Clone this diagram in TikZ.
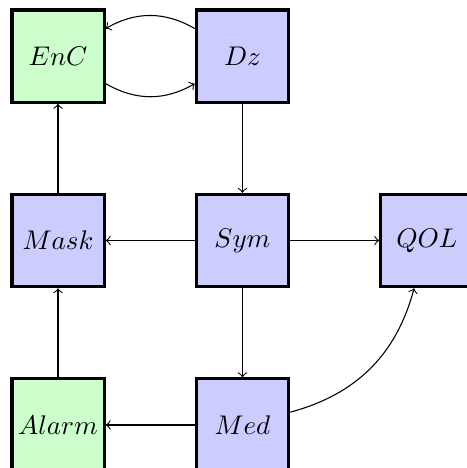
\documentclass[tikz,border=0pt]{standalone}
\usepackage{amsmath}
\usetikzlibrary{positioning}

\tikzset{
  box/.style={draw, very thick, minimum size=1.2cm, inner sep=0pt},
  greenbox/.style={box, fill=green!20},
  bluebox/.style={box, fill=blue!20}
}

\begin{document}
\begin{tikzpicture}[node distance=2.4cm, on grid]
                    % fixed frame
                    \useasboundingbox (-0.755,0.73) rectangle (5.315,-5.36);

                    % Top row
                    \node[greenbox] (enc) at (0,0) {$EnC$};
                    \node[bluebox, right=of enc] (dz) {$Dz$};

                    % Middle row
                    \node[bluebox, below=of enc] (mask) {$Mask$};
                    \node[bluebox, right=of mask] (sym) {$Sym$};
                    \node[bluebox, right=of sym] (qol) {$QOL$};

                    % Bottom row
                    \node[greenbox, below=of mask] (alarm) {$Alarm$};
                    \node[bluebox, right=of alarm] (med) {$Med$};

                    % Links
                    \draw[->] (dz) to[bend right] (enc);
                    \draw[->] (enc) to[bend right] (dz);
                    \draw[->] (dz) -- (sym);
                    \draw[->] (sym) -- (mask);
                    \draw[->] (sym) -- (qol);
                    \draw[->] (sym) -- (med);
                    \draw[->] (med) -- (alarm);
                    \draw[->] (alarm) -- (mask);
                    \draw[->] (mask) -- (enc);
                    \draw[->] (med) to[bend right] (qol);
                \end{tikzpicture}
\end{document}
